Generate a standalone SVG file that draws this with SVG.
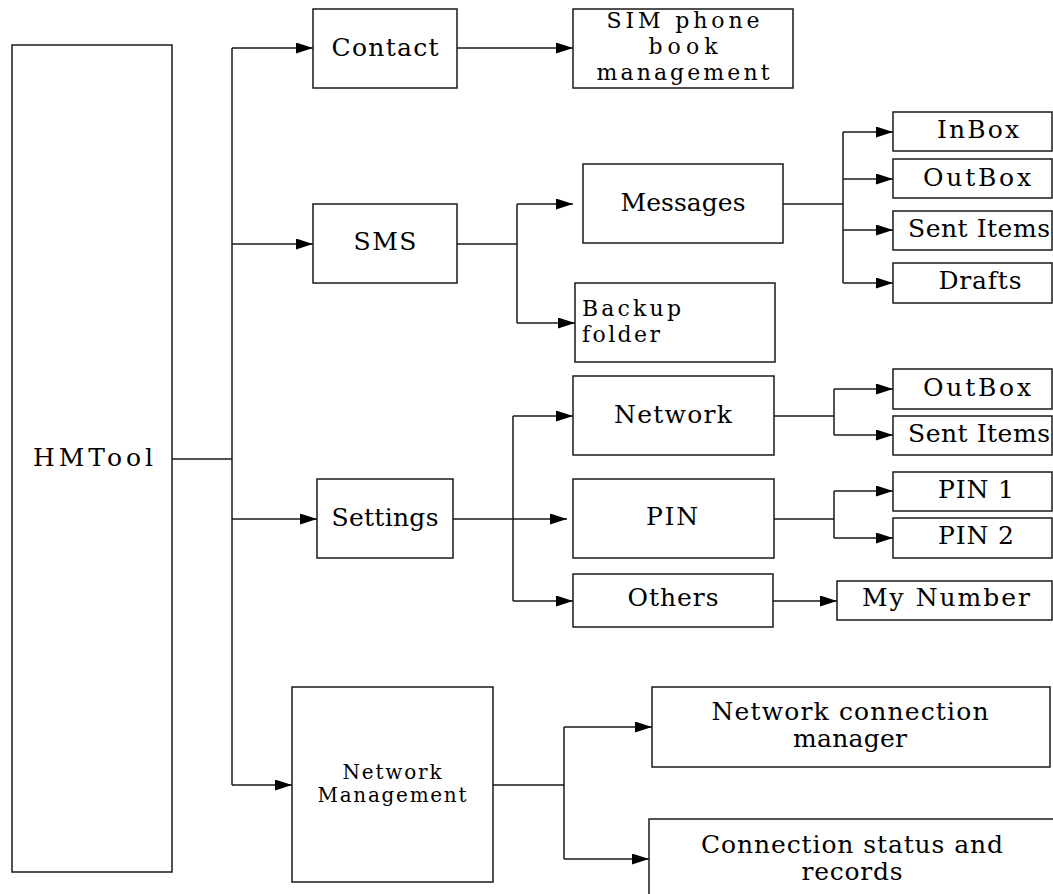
<svg xmlns="http://www.w3.org/2000/svg" width="1053" height="894" viewBox="0 0 1053 894">
<defs>
<marker id="arr" markerUnits="userSpaceOnUse" markerWidth="18" markerHeight="12" refX="17" refY="5.5" orient="auto">
<path d="M0,0 L17,5.5 L0,11 z" fill="#000"/>
</marker>
<style>
.box{fill:#fff;stroke:#1a1a1a;stroke-width:1.5}
.ln{fill:none;stroke:#1a1a1a;stroke-width:1.5}
.ar{fill:none;stroke:#1a1a1a;stroke-width:1.5;marker-end:url(#arr)}
text{font-family:"DejaVu Serif","Liberation Serif",serif;font-size:25px;fill:#000;text-anchor:middle}
.sm{font-size:20px}
.ml{font-size:22px}
.lft{text-anchor:start}
</style>
</defs>
<rect width="1053" height="894" fill="#fff"/>
<g id="connectors">
<path class="ln" d="M172,459 H232 M232,48 V785"/>
<path class="ar" d="M232,48 H313"/>
<path class="ar" d="M232,244 H313"/>
<path class="ar" d="M232,519 H317"/>
<path class="ar" d="M232,785 H292"/>
<path class="ar" d="M457,48 H573"/>
<path class="ln" d="M457,244 H517 M517,204 V323"/>
<path class="ar" d="M517,204 H573"/>
<path class="ar" d="M517,323 H575"/>
<path class="ln" d="M783,204 H843 M843,132 V283"/>
<path class="ar" d="M843,132 H893"/>
<path class="ar" d="M843,179 H893"/>
<path class="ar" d="M843,230 H893"/>
<path class="ar" d="M843,283 H893"/>
<path class="ln" d="M453,519 H513 M513,416 V601"/>
<path class="ar" d="M513,416 H573"/>
<path class="ar" d="M513,519 H567"/>
<path class="ar" d="M513,601 H573"/>
<path class="ln" d="M774,416 H834 M834,389 V435"/>
<path class="ar" d="M834,389 H893"/>
<path class="ar" d="M834,435 H893"/>
<path class="ln" d="M774,519 H834 M834,491 V538"/>
<path class="ar" d="M834,491 H893"/>
<path class="ar" d="M834,538 H893"/>
<path class="ar" d="M773,601 H837"/>
<path class="ln" d="M493,785 H564 M564,727 V859"/>
<path class="ar" d="M564,727 H652"/>
<path class="ar" d="M564,859 H649"/>
</g>
<g id="hmtool"><rect class="box" x="12" y="45" width="160" height="827"/><text x="93" y="466" textLength="120">HMTool</text></g>
<g id="contact"><rect class="box" x="313" y="9" width="144" height="79"/><text x="385" y="56" textLength="107">Contact</text></g>
<g id="sim"><rect class="box" x="573" y="9" width="220" height="79"/><text class="ml" x="683" y="28" textLength="153">SIM phone</text><text class="ml" x="683" y="54" textLength="69">book</text><text class="ml" x="683" y="80" textLength="173">management</text></g>
<g id="sms"><rect class="box" x="313" y="204" width="144" height="79"/><text x="385" y="250" textLength="63">SMS</text></g>
<g id="messages"><rect class="box" x="583" y="164" width="200" height="79"/><text x="683" y="211" textLength="125">Messages</text></g>
<g id="backup"><rect class="box" x="575" y="283" width="200" height="79"/><text class="lft ml" x="582" y="316" textLength="99">Backup</text><text class="lft ml" x="582" y="342" textLength="78">folder</text></g>
<g id="inbox"><rect class="box" x="893" y="112" width="159" height="39"/><text x="978" y="138" textLength="82">InBox</text></g>
<g id="outbox1"><rect class="box" x="893" y="159" width="159" height="39"/><text x="977" y="186" textLength="108">OutBox</text></g>
<g id="sent1"><rect class="box" x="893" y="211" width="159" height="39"/><text x="979" y="237" textLength="142">Sent Items</text></g>
<g id="drafts"><rect class="box" x="893" y="263" width="159" height="40"/><text x="980" y="289" textLength="83">Drafts</text></g>
<g id="settings"><rect class="box" x="317" y="479" width="136" height="79"/><text x="385" y="526" textLength="107">Settings</text></g>
<g id="network"><rect class="box" x="573" y="376" width="201" height="79"/><text x="673" y="423" textLength="118">Network</text></g>
<g id="pin"><rect class="box" x="573" y="479" width="201" height="79"/><text x="672" y="525" textLength="52">PIN</text></g>
<g id="others"><rect class="box" x="573" y="574" width="200" height="53"/><text x="673" y="606" textLength="91">Others</text></g>
<g id="outbox2"><rect class="box" x="893" y="369" width="159" height="40"/><text x="977" y="396" textLength="108">OutBox</text></g>
<g id="sent2"><rect class="box" x="893" y="416" width="159" height="39"/><text x="979" y="442" textLength="142">Sent Items</text></g>
<g id="pin1"><rect class="box" x="893" y="472" width="159" height="39"/><text x="976" y="498" textLength="76">PIN 1</text></g>
<g id="pin2"><rect class="box" x="893" y="518" width="159" height="40"/><text x="976" y="544" textLength="76">PIN 2</text></g>
<g id="mynumber"><rect class="box" x="837" y="581" width="215" height="39"/><text x="946" y="606" textLength="168">My Number</text></g>
<g id="netmgmt"><rect class="box" x="292" y="687" width="201" height="195"/><text class="sm" x="392" y="779" textLength="99">Network</text><text class="sm" x="392" y="802" textLength="149">Management</text></g>
<g id="ncm"><rect class="box" x="652" y="687" width="398" height="80"/><text x="850" y="720" textLength="277">Network connection</text><text x="850" y="747" textLength="114">manager</text></g>
<g id="csr"><rect class="box" x="649" y="819" width="420" height="100"/><text x="852" y="853" textLength="302">Connection status and</text><text x="852" y="880" textLength="101">records</text></g>
</svg>
